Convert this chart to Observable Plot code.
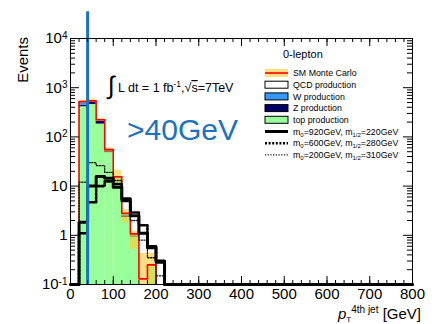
<!DOCTYPE html>
<html>
<head>
<meta charset="utf-8">
<script src="https://cdn.jsdelivr.net/npm/d3@7"></script>
<script src="https://cdn.jsdelivr.net/npm/@observablehq/plot@0.6"></script>
<style>
html,body{margin:0;padding:0;background:#fff;}
#chart svg{display:block;}
</style>
</head>
<body>
<div id="chart"></div>
<script>
// ---------------- data ----------------
const binEdges = [0, 20, 40, 60, 80, 100, 120, 140, 160, 180, 200, 220];
const topProd  = [0, 410, 455, 182, 48, 14.5, 2.3, 0.92, 0, 0.24, 0];
const zProd    = [0, 30, 45, 28, 4, 0.5, 0.2, 0.05, 0, 0, 0];
const wProd    = [0, 60, 25, 8, 2, 0.3, 0.2, 0.05, 0, 0, 0];
const qcdProd  = [0, 20, 15, 5, 1, 0.2, 0.1, 0.05, 0.13, 0.01, 0];
const smLow    = [0, 480, 500, 205, 48, 11.5, 1.8, 0.52, 0.1, 0.1, 0];
const smHigh   = [0, 560, 580, 240, 60, 21, 3.3, 1.2, 0.43, 0.43, 0];
const sig920   = [0, 1.85, 10, 15.7, 14.5, 9.5, 5.5, 2.5, 1.1, 0.59, 0.3];
const sig600   = [0, 1.1, 4.7, 10, 12.5, 11, 5, 2.9, 1.6, 0.55, 0.28];
const sig200   = [0, 12, 30, 26, 19, 13, 5, 2, 0.8, 0.35, 0.15];
const sigM0    = [920, 600, 200];
const sigM12   = [220, 280, 310];
const cutGeV   = 40;
const cutLabel = ">40GeV";
const xMajorTicks = [0, 100, 200, 300, 400, 500, 600, 700, 800];
const yDecades    = [0.1, 1, 10, 100, 1000, 10000];
const legendTitle = "0-lepton";
const legendLabels = ["SM Monte Carlo", "QCD production", "W production", "Z production", "top production"];
const yTitle = "Events";

// ---------------- derived tables ----------------
const yMin = 0.1, yMax = 1e4, xMax = 800;
const cutTop = 3.5e4;
const FONT = "'Liberation Sans', Arial, Helvetica, sans-serif";
const colors = {top: "#99ff99", Z: "#000066", W: "#3399ff", QCD: "#ffffff", band: "#ffc830", sm: "#ff0000", cut: "#1c72c0"};

const stackSeries = [
  {name: "top", values: topProd},
  {name: "Z", values: zProd},
  {name: "W", values: wProd},
  {name: "QCD", values: qcdProd}
];
const stackRows = [];
for (let i = 0; i < binEdges.length - 1; i++) {
  let base = 0;
  for (const s of stackSeries) {
    const v = s.values[i];
    const lo = Math.max(base, yMin), hi = base + v;
    if (v > 0 && hi > lo) stackRows.push({name: s.name, x1: binEdges[i], x2: binEdges[i + 1], y1: lo, y2: hi});
    base += v;
  }
}
const smTotal = topProd.map((_, i) => stackSeries.reduce((a, s) => a + s.values[i], 0));
const bandRows = smLow.map((lo, i) => ({x1: binEdges[i], x2: binEdges[i + 1], lo: Math.max(lo, yMin), hi: smHigh[i]}))
  .filter(d => d.hi > d.lo);

function steps(vals, extend) {
  let s = 0, n = vals.length;
  const pts = [];
  if (!extend) {
    while (s < n && vals[s] <= 0) s++;
    while (n > s && vals[n - 1] <= 0) n--;
    pts.push({x: binEdges[s], y: yMin});
  }
  for (let i = s; i < n; i++) pts.push({x: binEdges[i], y: Math.max(vals[i], yMin)});
  pts.push({x: binEdges[n], y: yMin});
  if (extend) pts.push({x: xMax, y: yMin});
  return pts;
}
const smPts = steps(smTotal, false);
const s920Pts = steps(sig920, true);
const s600Pts = steps(sig600, true);
const s200Pts = steps(sig200, true);

const xMinor = d3.range(0, xMax + 1, 20);
const yMinor = [];
for (const d of yDecades.slice(0, -1)) for (let k = 2; k <= 9; k++) yMinor.push(d * k);

const mT = 38, mR = 28, mB = 40, mL = 70, W = 440, H = 324;
const fW = W - mL - mR, fH = H - mT - mB;

const plot = Plot.plot({
  width: W, height: H,
  marginTop: mT, marginRight: mR, marginBottom: mB, marginLeft: mL,
  style: {fontFamily: FONT, background: "white", color: "black", overflow: "visible"},
  x: {domain: [0, xMax], axis: null},
  y: {type: "log", domain: [yMin, yMax], axis: null},
  color: {domain: ["top", "Z", "W", "QCD"], range: [colors.top, colors.Z, colors.W, colors.QCD]},
  marks: [
    Plot.rect(stackRows, {x1: "x1", x2: "x2", y1: "y1", y2: "y2", fill: "name"}),
    Plot.rect(bandRows, {x1: "x1", x2: "x2", y1: "lo", y2: "hi", fill: colors.band, fillOpacity: 0.6}),
    Plot.line(smPts, {x: "x", y: "y", curve: "step-after", stroke: colors.sm, strokeWidth: 1.6}),
    Plot.line(s200Pts, {x: "x", y: "y", curve: "step-after", stroke: "#111", strokeWidth: 1.3, strokeDasharray: "1.2,1.5"}),
    Plot.line(s600Pts, {x: "x", y: "y", curve: "step-after", stroke: "black", strokeWidth: 2.6, strokeDasharray: "2,1.6"}),
    Plot.line(s920Pts, {x: "x", y: "y", curve: "step-after", stroke: "black", strokeWidth: 3}),
    Plot.ruleX([cutGeV], {x: d => d, y1: () => yMin, y2: () => cutTop, stroke: colors.cut, strokeWidth: 3}),
    Plot.frame({stroke: "black", strokeWidth: 1}),
    // inward ticks
    Plot.tickX(xMinor, {x: d => d, insetTop: fH - 4, stroke: "black"}),
    Plot.tickX(xMajorTicks, {x: d => d, insetTop: fH - 8, stroke: "black"}),
    Plot.tickX(xMinor, {x: d => d, insetBottom: fH - 4, stroke: "black"}),
    Plot.tickX(xMajorTicks, {x: d => d, insetBottom: fH - 8, stroke: "black"}),
    Plot.tickY(yMinor, {y: d => d, insetRight: fW - 5, stroke: "black"}),
    Plot.tickY(yDecades, {y: d => d, insetRight: fW - 9, stroke: "black"}),
    Plot.tickY(yMinor, {y: d => d, insetLeft: fW - 5, stroke: "black"}),
    Plot.tickY(yDecades, {y: d => d, insetLeft: fW - 9, stroke: "black"}),
    Plot.axisX({ticks: xMajorTicks, tickSize: 0, tickPadding: 4, fontSize: 15, label: null, tickFormat: d => String(d)}),
    Plot.axisY({ticks: yDecades, tickSize: 0, tickPadding: 3, fontSize: 15, label: null,
      tickFormat: d => { const e = Math.round(Math.log10(d)); return e === 0 ? "1" : e === 1 ? "10" : "10^" + e; }})
  ]
});
document.getElementById("chart").appendChild(plot);

const svg = d3.select(plot);

// superscript exponents on y tick labels
svg.selectAll('g[aria-label="y-axis tick label"] text').each(function() {
  const t = d3.select(this);
  const s = t.text();
  if (s.startsWith("10^")) {
    t.text("10");
    t.append("tspan").attr("dy", "-0.45em").attr("font-size", 10).text(s.slice(3));
  }
});

function rich(sel, parts) {
  let cur = 0;
  for (const p of parts) {
    const ts = sel.append("tspan").text(p.t);
    const target = p.dy || 0;
    if (target !== cur) { ts.attr("dy", target - cur); cur = target; }
    if (p.size) ts.attr("font-size", p.size);
    if (p.dx) ts.attr("dx", p.dx);
    if (p.italic) ts.attr("font-style", "italic");
    if (p.over) ts.attr("text-decoration", "overline");
  }
  return sel;
}

const ann = svg.append("g").attr("font-family", FONT).attr("fill", "black").attr("text-anchor", "start");

// y title
ann.append("text").attr("transform", "translate(28,37) rotate(-90)").attr("text-anchor", "end")
  .attr("font-size", 15).text(yTitle);

// x title
rich(ann.append("text").attr("x", 421).attr("y", 319).attr("text-anchor", "end").attr("font-size", 15), [
  {t: "p", italic: true},
  {t: "T", size: 8, dy: 3},
  {t: "4th jet", size: 10, dy: -6.5},
  {t: " [GeV]", dy: 0}
]);

// luminosity
ann.append("text").attr("x", 108).attr("y", 94).attr("font-size", 25).text("∫");
rich(ann.append("text").attr("x", 118).attr("y", 92).attr("font-size", 12.5), [
  {t: "L dt = 1 fb"},
  {t: "-1", size: 8.5, dy: -5},
  {t: ",√", dy: 0},
  {t: "s", over: true},
  {t: "=7TeV"}
]);

// cut label
ann.append("text").attr("x", 127).attr("y", 140).attr("font-size", 30).attr("fill", colors.cut).text(cutLabel);

// legend
const lg = svg.append("g").attr("font-family", FONT).attr("text-anchor", "start").attr("fill", "black");
lg.append("text").attr("x", 283).attr("y", 58).attr("font-size", 11).text(legendTitle);
const row0 = 73, rowStep = 11.7, bx = 265, bw = 23, bh = 7, tx = 293;
const boxFills = [null, colors.QCD, colors.W, colors.Z, colors.top];
legendLabels.forEach((lab, i) => {
  const cy = row0 + i * rowStep;
  if (i === 0) {
    lg.append("rect").attr("x", bx).attr("y", cy - 4).attr("width", bw).attr("height", 8).attr("fill", colors.band).attr("fill-opacity", 0.6);
    lg.append("line").attr("x1", bx).attr("x2", bx + bw).attr("y1", cy).attr("y2", cy).attr("stroke", colors.sm).attr("stroke-width", 1.6);
  } else {
    lg.append("rect").attr("x", bx).attr("y", cy - bh / 2).attr("width", bw).attr("height", bh)
      .attr("fill", boxFills[i]).attr("stroke", "black").attr("stroke-width", 1);
  }
  lg.append("text").attr("x", tx).attr("y", cy + 3.2).attr("font-size", 8.8).text(lab);
});
const sigStyles = [
  {w: 3, dash: null, c: "black"},
  {w: 2.6, dash: "2,1.6", c: "black"},
  {w: 1.3, dash: "1.2,1.5", c: "#111"}
];
sigM0.forEach((m0, j) => {
  const cy = row0 + (legendLabels.length + j) * rowStep;
  const st = sigStyles[j];
  const ln = lg.append("line").attr("x1", bx).attr("x2", bx + bw).attr("y1", cy).attr("y2", cy)
    .attr("stroke", st.c).attr("stroke-width", st.w);
  if (st.dash) ln.attr("stroke-dasharray", st.dash);
  rich(lg.append("text").attr("x", tx).attr("y", cy + 3.2).attr("font-size", 8.8), [
    {t: "m"}, {t: "0", size: 6, dy: 2}, {t: "=" + m0 + "GeV, m", dy: 0},
    {t: "1/2", size: 6, dy: 2}, {t: "=" + sigM12[j] + "GeV", dy: 0}
  ]);
});
</script>
</body>
</html>
